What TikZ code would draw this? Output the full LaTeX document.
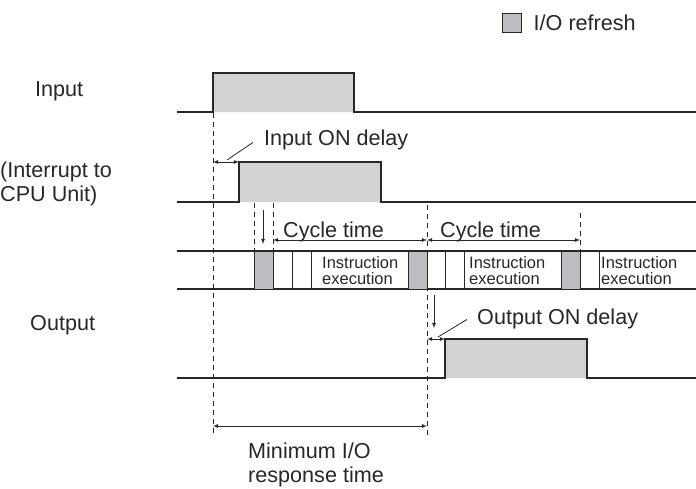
\documentclass[tikz,border=0pt]{standalone}
\usepackage{fontspec}
\setmainfont{Liberation Sans}
\usetikzlibrary{positioning}
\definecolor{pulsegray}{RGB}{211,211,211}
\definecolor{refgray}{RGB}{188,189,192}
\definecolor{linegray}{RGB}{40,38,38}

\begin{document}
\begin{tikzpicture}[x=1pt, y=-1pt, >=latex,
    sig/.style={draw=linegray, line width=1.6pt},
    pulse/.style={sig, fill=pulsegray},
    band/.style={draw=linegray, line width=1.2pt},
    iorf/.style={draw=linegray, line width=1pt, fill=refgray},
    guide/.style={draw=linegray, line width=0.8pt, dash pattern=on 5pt off 4pt},
    dim/.style={draw=linegray, line width=0.8pt},
    txt/.style={font=\fontsize{21.6}{24}\selectfont, inner sep=0pt, text=linegray, align=left},
    small/.style={font=\fontsize{16.5}{16}\selectfont, inner sep=0pt, text=linegray, align=left}]
    \useasboundingbox (0,0) rectangle (696,488);

    % legend
    \node[iorf, minimum size=19pt, inner sep=0pt] (refbox) at (511.5,22.5) {};
    \node[txt, right=12pt of refbox] (reftxt) {I/O refresh};

    % row labels
    \node[txt, anchor=base west] (inlbl) at (35,96) {Input};
    \node[txt, anchor=west] (irqlbl) at (0,184) {(Interrupt to\\CPU Unit)};
    \node[txt, anchor=base west] (outlbl) at (30,330) {Output};

    % signals
    \draw[pulse] (177,112) -- (213,112) -- (213,73) -- (354,73) -- (354,112) -- (696,112);
    \draw[pulse] (177,202) -- (239,202) -- (239,162) -- (381,162) -- (381,202) -- (696,202);
    \draw[pulse] (177,378) -- (445,378) -- (445,339) -- (587,339) -- (587,378) -- (696,378);

    % scan band
    \draw[band] (177,251) -- (696,251);
    \draw[band] (177,289) -- (696,289);
    \foreach \x in {254,408,561}
        \draw[iorf] (\x,251) rectangle ++(19,38);
    \foreach \x in {292,311,445,464,599}
        \draw[dim] (\x,251) -- (\x,289);
    \node[small, anchor=west] (exec1) at (322,271) {Instruction\\execution};
    \node[small, anchor=west] (exec2) at (469,271) {Instruction\\execution};
    \node[small, anchor=west] (exec3) at (601,271) {Instruction\\execution};

    % guide lines
    \draw[guide] (213,113) -- (213,436);
    \draw[guide] (254,203) -- (254,251);
    \draw[guide] (273,203) -- (273,251);
    \draw[guide] (427,205) -- (427,436);
    \draw[guide] (580,213) -- (580,251);

    % input on delay
    \coordinate (inon) at (213,162);
    \coordinate (irqon) at (239,162);
    \draw[dim, <->] (inon) -- (irqon);
    \node[txt, anchor=base west] (indly) at (264,145) {Input ON delay};
    \coordinate (inlead) at (227,160);
    \draw[dim] (inlead) -- ([xshift=-11pt, yshift=-3pt]indly.west);

    % cycle times
    \coordinate (cyc0) at (273,240);
    \coordinate (cyc1) at (427,240);
    \coordinate (cyc2) at (580,240);
    \draw[dim, <->] (cyc0) -- (cyc1);
    \draw[dim, <->] (cyc1) -- (cyc2);
    \node[txt, anchor=base west] (cyct1) at (283,237) {Cycle time};
    \node[txt, anchor=base west] (cyct2) at (440,237) {Cycle time};

    % refresh pointers
    \coordinate (ptr1) at (263,210);
    \coordinate (ptr1e) at (263,244);
    \draw[dim, ->] (ptr1) -- (ptr1e);
    \coordinate (ptr2) at (434,295);
    \coordinate (ptr2e) at (434,328);
    \draw[dim, ->] (ptr2) -- (ptr2e);

    % output on delay
    \coordinate (outst) at (427,339);
    \coordinate (outon) at (445,339);
    \draw[dim, <->] (outst) -- (outon);
    \node[txt, anchor=base west] (outdly) at (477,324) {Output ON delay};
    \coordinate (outlead) at (438,337);
    \draw[dim] (outlead) -- ([xshift=-10pt, yshift=-1pt]outdly.west);

    % minimum response
    \coordinate (minst) at (213,426);
    \coordinate (minen) at (427,426);
    \draw[dim, <->] (minst) -- (minen);
    \node[txt, anchor=north west] (mintxt) at (248,443) {Minimum I/O\\response time};
\end{tikzpicture}
\end{document}
